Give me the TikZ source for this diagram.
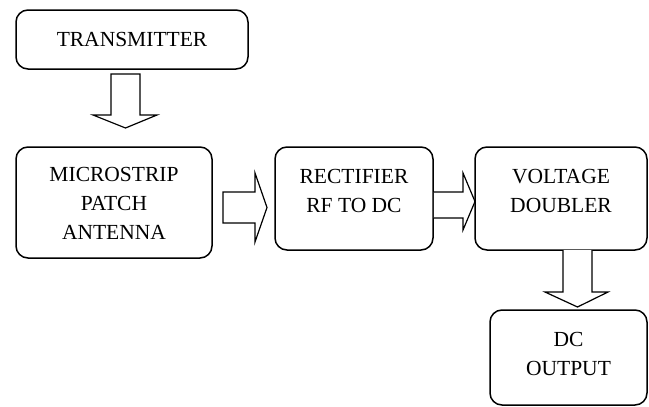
\documentclass[tikz,border=0pt]{standalone}
\usepackage{fontspec}
\setmainfont{Liberation Serif}
\newfontfamily\diagfont{Liberation Serif}
\begin{document}
\begin{tikzpicture}[x=1pt,y=-1pt,
  box/.style={draw, line width=1.5pt, rounded corners=12pt, inner sep=0pt},
  txt/.style={align=center, font=\diagfont\fontsize{21.5}{29}\selectfont, inner sep=0pt},
  blk/.style={draw, line width=1.2pt, fill=white, line join=miter}]
\useasboundingbox (0,0) rectangle (649,407);
\node[box, minimum width=232pt, minimum height=59pt] (tx) at (132,39.5) {};
\node[txt] (txt1) at (tx.center) {TRANSMITTER};
\node[box, minimum width=196pt, minimum height=111pt] (ant) at (114,202.5) {};
\node[txt] (txt2) at (114,203) {MICROSTRIP\\PATCH\\ANTENNA};
\node[box, minimum width=158pt, minimum height=103pt] (rect) at (354,198.5) {};
\node[txt] (txt3) at (354,191) {RECTIFIER\\RF TO DC};
\node[box, minimum width=172pt, minimum height=103pt] (vd) at (561,198.5) {};
\node[txt] (txt4) at (561,191) {VOLTAGE\\DOUBLER};
\node[box, minimum width=157pt, minimum height=95pt] (dc) at (568.5,357.5) {};
\node[txt] (txt5) at (568.5,353.5) {DC\\OUTPUT};
% block arrows
\draw[blk] (111,74) -- (140,74) -- (140,115) -- (157,115) -- (125.5,128) -- (93,115) -- (111,115) -- cycle;
\draw[blk] (223,192) -- (255,192) -- (255,173) -- (267,207.5) -- (255,242) -- (255,223) -- (223,223) -- cycle;
\draw[blk] (rect.east |- 0,192) -- (463,192) -- (463,173) -- (475,201.5) -- (463,230) -- (463,218) -- (rect.east |- 0,218);
\draw[blk] (563,250) -- (563,292) -- (545,292) -- (577.5,307) -- (608,292) -- (592,292) -- (592,250);
\end{tikzpicture}
\end{document}
